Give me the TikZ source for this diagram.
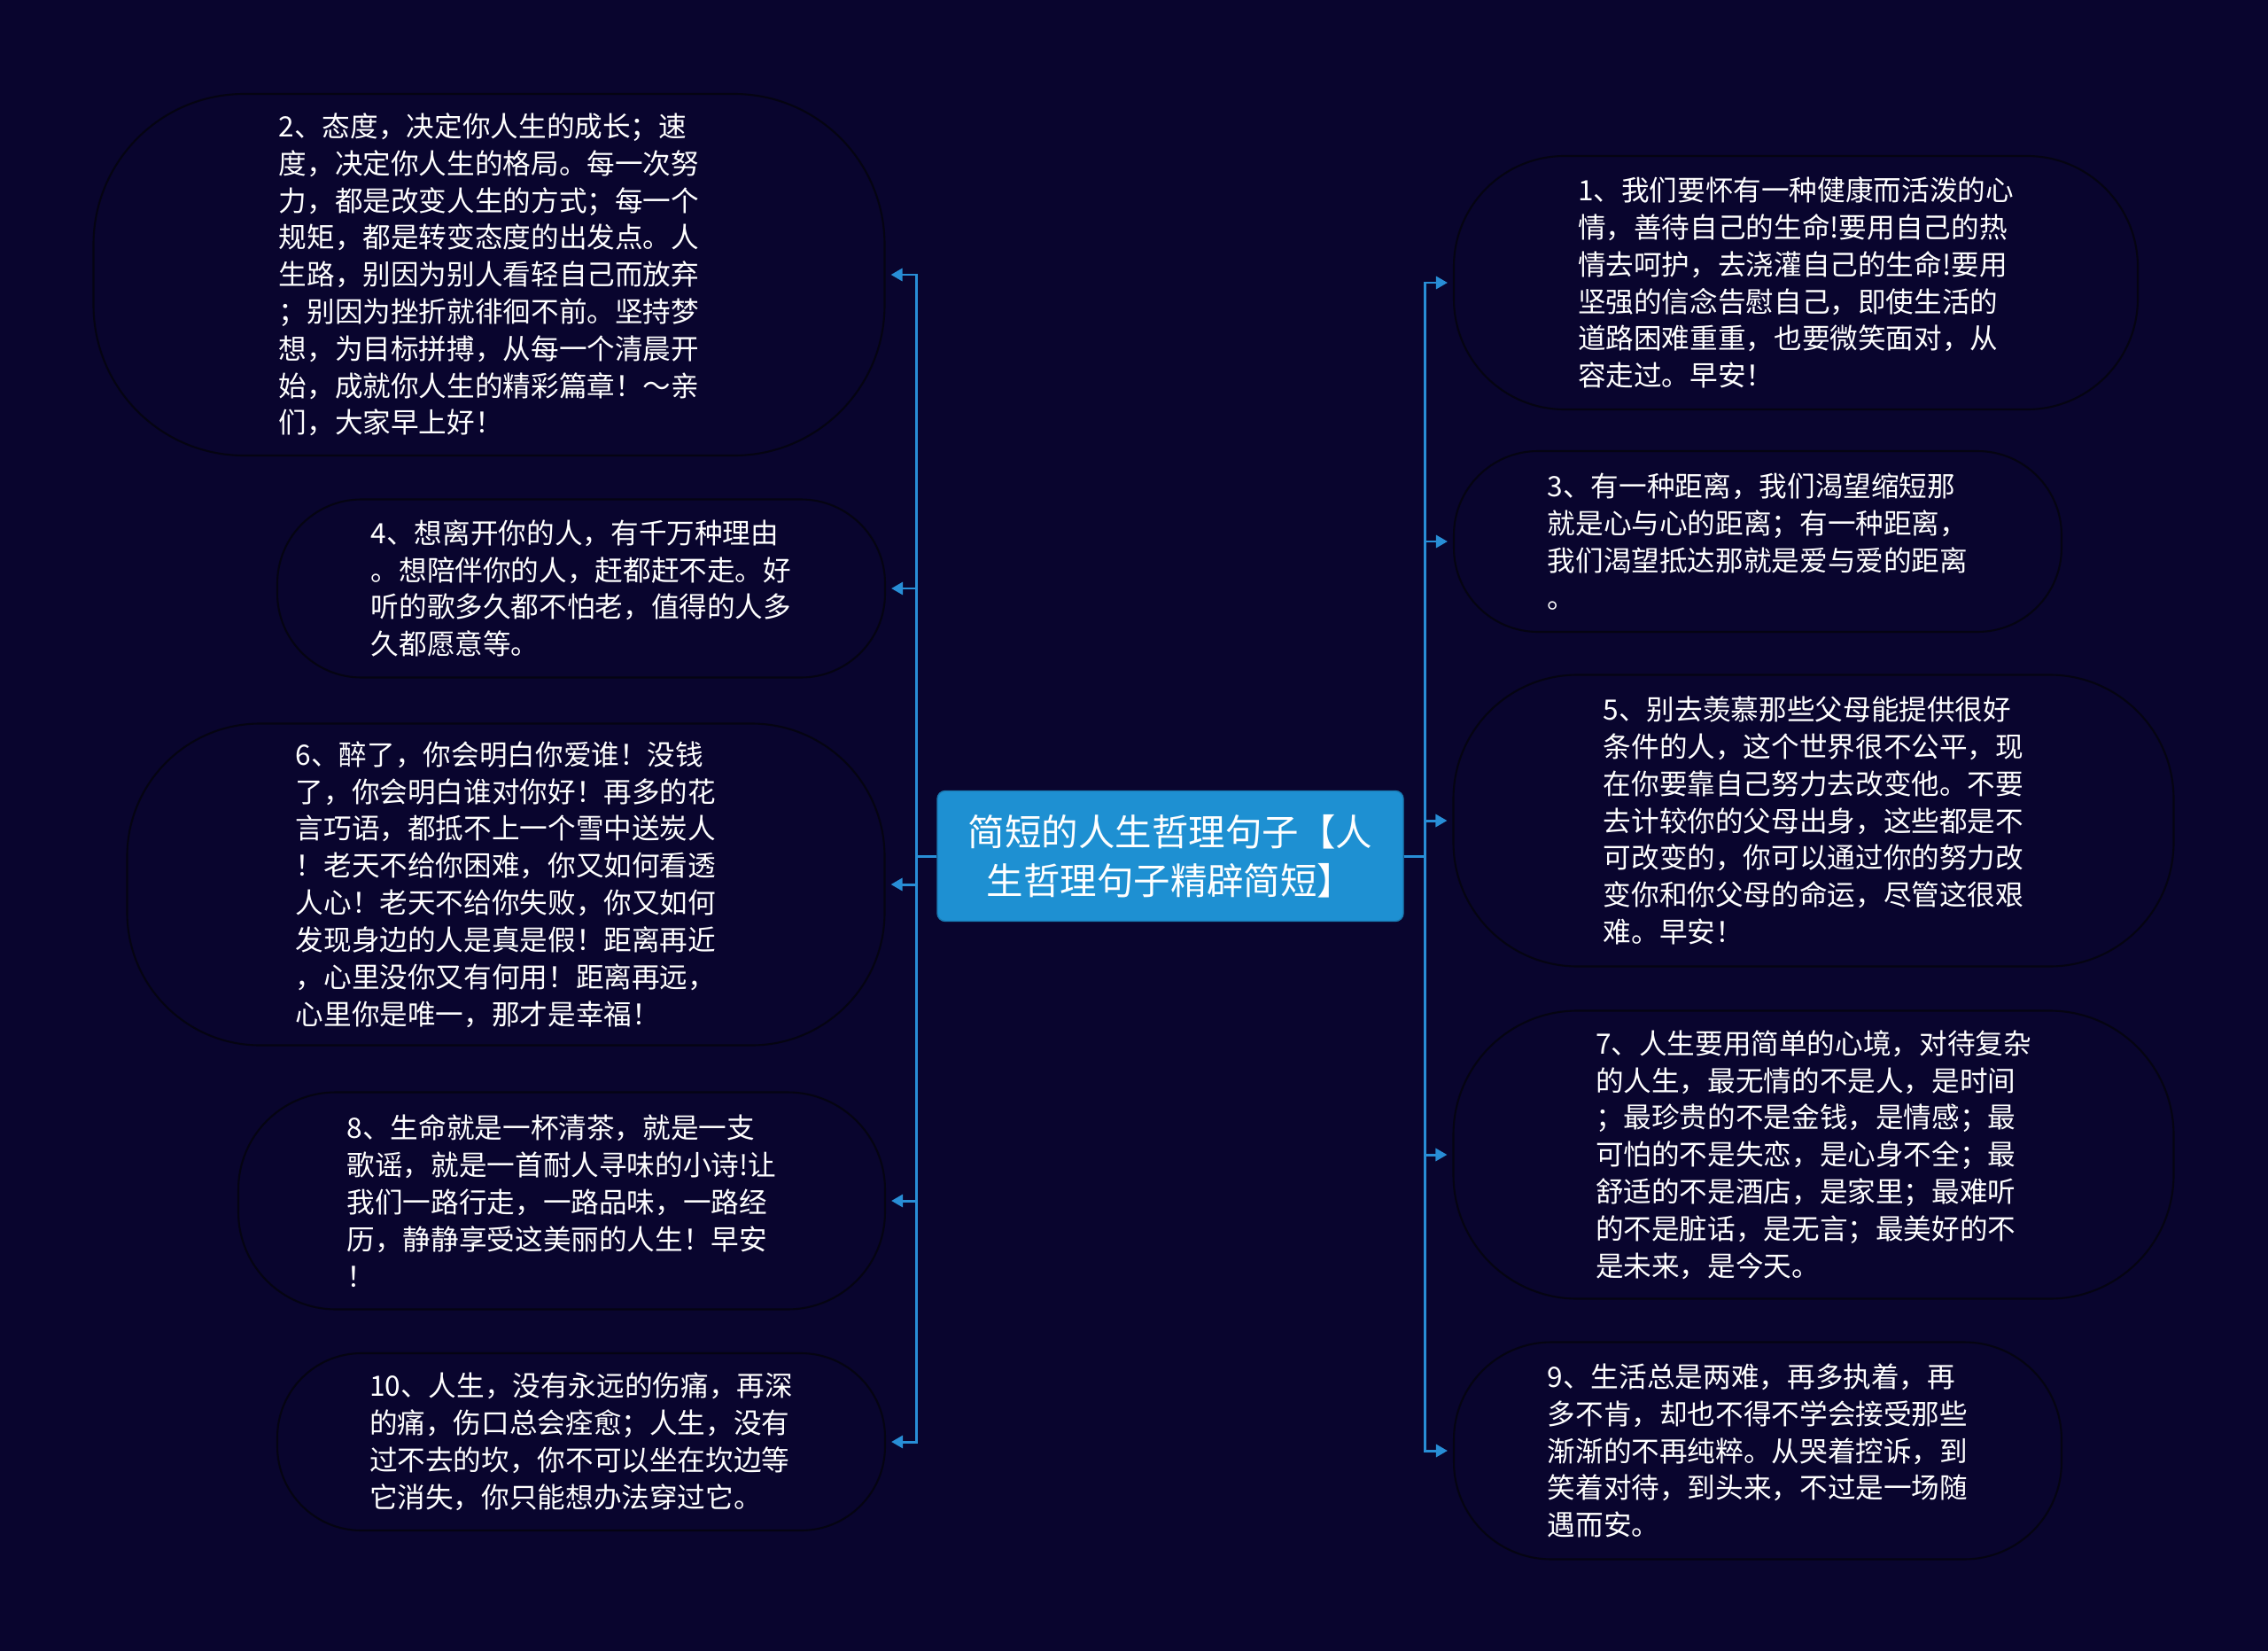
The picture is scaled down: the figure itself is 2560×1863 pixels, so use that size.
\documentclass[tikz,border=0pt]{standalone}
\usepackage{fontspec}
\setmainfont{Noto Sans CJK SC}
\usepackage{tikz}
\usetikzlibrary{
  arrows.meta,
  positioning
}
\definecolor{bgcolor}{RGB}{9, 5, 46}
\definecolor{rootcolor}{RGB}{30, 144, 210}
\definecolor{linecolor}{RGB}{40, 142, 214}
\definecolor{rimcolor}{RGB}{5, 4, 18}
\tikzset{
rootblock/.style={
  draw=rootcolor!85!black,
  fill=rootcolor,
  rounded corners=0.9mm,
  minimum width=52.6mm,
  minimum height=14.7mm,
  align=center,
  text=white,
  font=\fontsize{11.8}{15.8}\selectfont
},
leafblock/.style={
  draw=rimcolor,
  line width=0.6pt,
  inner sep=0pt,
  align=left,
  text=white,
  font=\fontsize{9}{11.9}\selectfont
},
branch/.style={
  -{Triangle[length=1.3mm,width=1.4mm]},
  line width=0.85pt,
  draw=linecolor,
  shorten >=0.6mm
}
}

\begin{document}
\begin{tikzpicture}[x=0.1mm, y=-0.1mm]
  \fill[bgcolor] (0,0) rectangle (2560,1863);

  % centre
  \node[rootblock] (root) at (1321,966) {简短的人生哲理句子【人\\生哲理句子精辟简短】};

  % left side
  \node[leafblock, minimum width=89.3mm, minimum height=40.8mm, rounded corners=17mm] (n2) at (552,310) {2、态度，决定你人生的成长；速\\度，决定你人生的格局。每一次努\\力，都是改变人生的方式；每一个\\规矩，都是转变态度的出发点。人\\生路，别因为别人看轻自己而放弃\\；别因为挫折就徘徊不前。坚持梦\\想，为目标拼搏，从每一个清晨开\\始，成就你人生的精彩篇章！～亲\\们，大家早上好！};
  \node[leafblock, minimum width=68.6mm, minimum height=20.1mm, rounded corners=9.5mm] (n4) at (656,664) {4、想离开你的人，有千万种理由\\。想陪伴你的人，赶都赶不走。好\\听的歌多久都不怕老，值得的人多\\久都愿意等。};
  \node[leafblock, minimum width=85.5mm, minimum height=36.3mm, rounded corners=15mm] (n6) at (571,998) {6、醉了，你会明白你爱谁！没钱\\了，你会明白谁对你好！再多的花\\言巧语，都抵不上一个雪中送炭人\\！老天不给你困难，你又如何看透\\人心！老天不给你失败，你又如何\\发现身边的人是真是假！距离再近\\，心里没你又有何用！距离再远，\\心里你是唯一，那才是幸福！};
  \node[leafblock, minimum width=73mm, minimum height=24.5mm, rounded corners=11mm] (n8) at (634,1355) {8、生命就是一杯清茶，就是一支\\歌谣，就是一首耐人寻味的小诗!让\\我们一路行走，一路品味，一路经\\历，静静享受这美丽的人生！早安\\！};
  \node[leafblock, minimum width=68.6mm, minimum height=20mm, rounded corners=9.5mm] (n10) at (656,1627) {10、人生，没有永远的伤痛，再深\\的痛，伤口总会痊愈；人生，没有\\过不去的坎，你不可以坐在坎边等\\它消失，你只能想办法穿过它。};

  % right side
  \node[leafblock, minimum width=77.2mm, minimum height=28.6mm, rounded corners=12.5mm] (n1) at (2027,319) {1、我们要怀有一种健康而活泼的心\\情，善待自己的生命!要用自己的热\\情去呵护，去浇灌自己的生命!要用\\坚强的信念告慰自己，即使生活的\\道路困难重重，也要微笑面对，从\\容走过。早安！};
  \node[leafblock, minimum width=68.6mm, minimum height=20.4mm, rounded corners=9.5mm] (n3) at (1984,611) {3、有一种距离，我们渴望缩短那\\就是心与心的距离；有一种距离，\\我们渴望抵达那就是爱与爱的距离\\。};
  \node[leafblock, minimum width=81.3mm, minimum height=32.9mm, rounded corners=14mm] (n5) at (2047,926) {5、别去羡慕那些父母能提供很好\\条件的人，这个世界很不公平，现\\在你要靠自己努力去改变他。不要\\去计较你的父母出身，这些都是不\\可改变的，你可以通过你的努力改\\变你和你父母的命运，尽管这很艰\\难。早安！};
  \node[leafblock, minimum width=81.3mm, minimum height=32.5mm, rounded corners=14mm] (n7) at (2047,1303) {7、人生要用简单的心境，对待复杂\\的人生，最无情的不是人，是时间\\；最珍贵的不是金钱，是情感；最\\可怕的不是失恋，是心身不全；最\\舒适的不是酒店，是家里；最难听\\的不是脏话，是无言；最美好的不\\是未来，是今天。};
  \node[leafblock, minimum width=68.6mm, minimum height=24.5mm, rounded corners=11mm] (n9) at (1984,1637) {9、生活总是两难，再多执着，再\\多不肯，却也不得不学会接受那些\\渐渐的不再纯粹。从哭着控诉，到\\笑着对待，到头来，不过是一场随\\遇而安。};

  % connectors
  \foreach \leaf in {n2,n4,n6,n8,n10}
    \draw[branch] (root.west) -- ++(-23,0) |- (\leaf.east);
  \foreach \leaf in {n1,n3,n5,n7,n9}
    \draw[branch] (root.east) -- ++(24,0) |- (\leaf.west);
\end{tikzpicture}
\end{document}
